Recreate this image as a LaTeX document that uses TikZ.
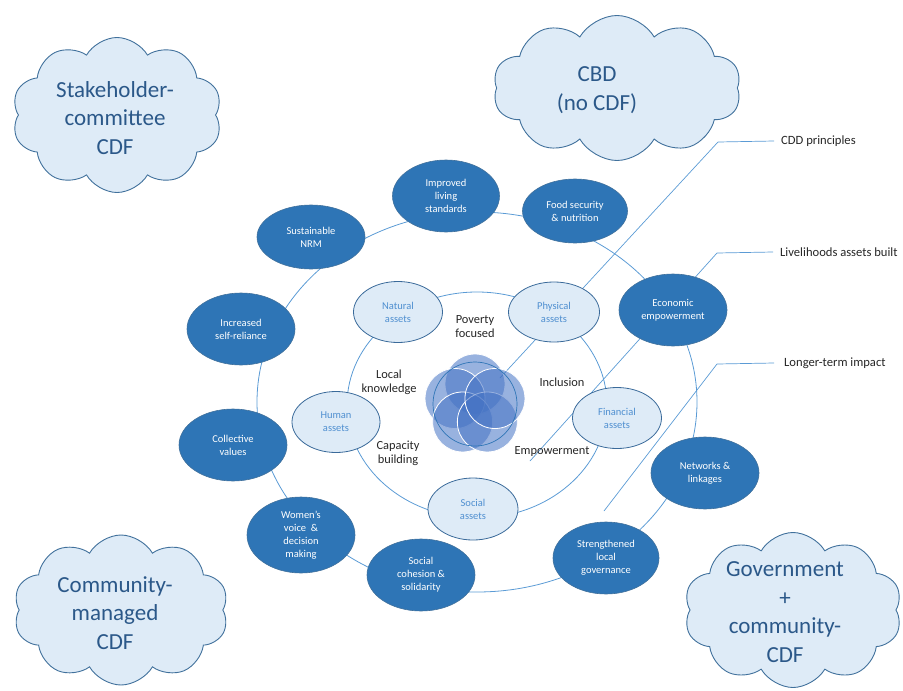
\documentclass[tikz,border=0pt]{standalone}
\usepackage{fontspec}
\setmainfont{Carlito}
\usetikzlibrary{shapes.geometric,shapes.symbols,calc}
\definecolor{darkblue}{HTML}{2E75B6}
\definecolor{darkedge}{HTML}{41719C}
\definecolor{lightfill}{HTML}{DEEBF7}
\definecolor{lightedge}{HTML}{3A6A9A}
\definecolor{lighttext}{HTML}{4F8FD0}
\definecolor{linecol}{HTML}{5B9BD5}
\definecolor{cloudtxt}{HTML}{2B5889}
\definecolor{petalcol}{HTML}{4472C4}
\tikzset{
  outernode/.style={ellipse, fill=darkblue, draw=darkedge, line width=0.6pt, text=white,
    font=\fontsize{10.5}{13}\selectfont, align=center, inner sep=0pt},
  assetnode/.style={ellipse, fill=lightfill, draw=lightedge, line width=0.8pt, text=lighttext,
    font=\fontsize{10.5}{13}\selectfont, align=center, inner sep=0pt},
  ringline/.style={draw=linecol, line width=0.8pt},
  callline/.style={draw=linecol, line width=0.7pt},
  cloudbox/.style={cloud, cloud puffs=10, cloud puff arc=120, cloud ignores aspect,
    fill=lightfill, draw=darkedge, line width=0.9pt, inner sep=0pt},
  cloudlabel/.style={text=cloudtxt, font=\fontsize{23}{28.5}\selectfont, align=center},
  innerlabel/.style={text=black!85, font=\fontsize{12.4}{14}\selectfont, align=center},
  calllabel/.style={text=black!85, font=\fontsize{12.6}{15}\selectfont, anchor=west, inner sep=0pt},
  petal/.style={circle, fill=petalcol, fill opacity=0.55, draw=white, line width=0.8pt,
    minimum size=60pt, inner sep=0pt}
}
\begin{document}
\begin{tikzpicture}[x=1pt,y=-1pt]
\useasboundingbox (0,0) rectangle (903,691);

% clouds
\node[cloudbox, minimum width=210pt, minimum height=155pt] (cl1) at (117,115) {};
\node[cloudlabel] (cl1t) at (115,118) {Stakeholder-\\committee\\CDF};
\node[cloudbox, minimum width=248pt, minimum height=145pt] (cl2) at (617,88) {};
\node[cloudlabel] (cl2t) at (597,90) {CBD\\(no CDF)};
\node[cloudbox, minimum width=215pt, minimum height=150pt] (cl3) at (121,610) {};
\node[cloudlabel] (cl3t) at (115,613) {Community-\\managed\\CDF};
\node[cloudbox, minimum width=218pt, minimum height=155pt] (cl4) at (793,610) {};
\node[cloudlabel] (cl4t) at (785,612) {Government\\+\\community-\\CDF};

% rings
\draw[ringline] (477,402) ellipse [x radius=220pt, y radius=190pt];
\draw[ringline] (477,405) ellipse [x radius=130pt, y radius=113pt];

% callout labels
\node[calllabel] (cdd) at (781,141) {CDD principles};
\node[calllabel] (liv) at (780,252) {Livelihoods assets built};
\node[calllabel] (ltm) at (784,363) {Longer-term impact};

\coordinate (b1) at (718,142);
\coordinate (e1) at (500,378);
\coordinate (b2) at (717,253);
\coordinate (e2) at (530,461);
\coordinate (b3) at (717,364);
\coordinate (e3) at (604,511);
\draw[callline] (e1) -- (b1) -- ([xshift=-7pt]cdd.west);
\draw[callline] (e2) -- (b2) -- ([xshift=-7pt]liv.west);
\draw[callline] (e3) -- (b3) -- ([xshift=-10pt]ltm.west);

% outer nodes
\node[outernode, minimum width=107pt, minimum height=72pt] (ils) at (446,196) {Improved\\living\\standards};
\node[outernode, minimum width=105pt, minimum height=64pt] (fsn) at (575,211) {Food security\\\& nutrition};
\node[outernode, minimum width=108pt, minimum height=64pt] (nrm) at (311,237) {Sustainable\\NRM};
\node[outernode, minimum width=108pt, minimum height=72pt] (isr) at (241,329) {Increased\\self-reliance};
\node[outernode, minimum width=108pt, minimum height=72pt] (cv) at (233,445) {Collective\\values};
\node[outernode, minimum width=108pt, minimum height=76pt] (wv) at (301,535) {Women's\\voice \ \&\\decision\\making};
\node[outernode, minimum width=108pt, minimum height=72pt] (scs) at (421,575) {Social\\cohesion \&\\solidarity};
\node[outernode, minimum width=106pt, minimum height=72pt] (slg) at (606,558) {Strengthened\\local\\governance};
\node[outernode, minimum width=108pt, minimum height=72pt] (nl) at (705,473) {Networks \&\\linkages};
\node[outernode, minimum width=108pt, minimum height=72pt] (ee) at (673,310) {Economic\\empowerment};

% asset nodes
\node[assetnode, minimum width=89pt, minimum height=61pt] (na) at (398,312) {Natural\\assets};
\node[assetnode, minimum width=91pt, minimum height=60pt] (pa) at (554,312) {Physical\\assets};
\node[assetnode, minimum width=88pt, minimum height=61pt] (ha) at (336,422) {Human\\assets};
\node[assetnode, minimum width=89pt, minimum height=61pt] (fa) at (617,418) {Financial\\assets};
\node[assetnode, minimum width=90pt, minimum height=62pt] (sa) at (473,509) {Social\\assets};

% flower
\coordinate (fc) at (475,405);
\node[petal] (p1) at ($(fc)+(90:21pt)$) {};
\node[petal] (p2) at ($(fc)+(162:21pt)$) {};
\node[petal] (p3) at ($(fc)+(234:21pt)$) {};
\node[petal] (p4) at ($(fc)+(306:21pt)$) {};
\node[petal] (p5) at ($(fc)+(18:21pt)$) {};
\node[circle, draw=darkblue, line width=0.7pt, minimum size=84pt, inner sep=0pt] (fring) at (475,404) {};

% inner labels
\node[innerlabel] (pf) at (475,327) {Poverty\\focused};
\node[innerlabel] (lk) at (389,382) {Local\\knowledge};
\node[innerlabel] (inc) at (562,382) {Inclusion};
\node[innerlabel] (cb) at (398,453) {Capacity\\building};
\node[innerlabel] (emp) at (552,452) {Empowerment};
\end{tikzpicture}
\end{document}
